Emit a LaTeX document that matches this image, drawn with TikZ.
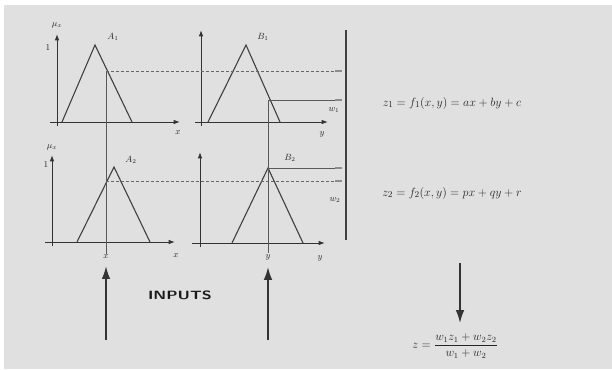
\documentclass[tikz,border=0pt]{standalone}
\usepackage{amsmath}
\usetikzlibrary{arrows.meta,positioning,calc}
\tikzset{
  tengely/.style={-{Latex[length=2.2mm,width=1.6mm]},line width=1pt,draw=black!80},
  gorbe/.style={line width=1.1pt,draw=black!75},
  szagg/.style={dashed,dash pattern=on 3pt off 2pt,draw=black!60,line width=0.7pt},
  vonal/.style={draw=black!65,line width=0.7pt},
  jel/.style={draw=black!45,line width=1.3pt},
  cimke/.style={font=\small,inner sep=1pt,text=black!85},
  egyenlet/.style={font=\fontsize{13}{15}\selectfont,text=black!85},
  vnyil/.style={-{Latex[length=4.5mm,width=3mm]},line width=1.6pt,draw=black!80},
}
\begin{document}
\begin{tikzpicture}[x=1pt,y=-1pt]
  \useasboundingbox (0,0) rectangle (612,369);
  \fill[black!12] (4,5) rectangle (612,369);
  % A_1
  \draw[tengely] (50,122) -- (180,122);
  \draw[tengely] (57,126) -- (57,34);
  \node[cimke] (mua) at (57,25) {$\mu_x$};
  \node[cimke] (egya) at (48,48) {1};
  \node[cimke] (xa) at (178,133) {$x$};
  \draw[gorbe] (62,122) -- (95,45) -- (132,122);
  \node[cimke] (a1) at (113,37) {$A_1$};
  % B_1
  \draw[tengely] (195,122) -- (328,122);
  \draw[tengely] (201,126) -- (201,30);
  \node[cimke] (yb) at (322,134) {$y$};
  \draw[gorbe] (208,122) -- (246,45) -- (280,122);
  \node[cimke] (b1) at (263,37) {$B_1$};
  % A_2
  \draw[tengely] (45,242) -- (175,242);
  \draw[tengely] (52,246) -- (52,155);
  \node[cimke] (mub) at (52,147) {$\mu_x$};
  \node[cimke] (egyb) at (46,165) {1};
  \node[cimke] (xc) at (176,256) {$x$};
  \draw[gorbe] (77,242) -- (114,167) -- (150,242);
  \node[cimke] (a2) at (131,160) {$A_2$};
  % B_2
  \draw[tengely] (192,243) -- (325,243);
  \draw[tengely] (200,247) -- (200,152);
  \node[cimke] (yd) at (320,258) {$y$};
  \draw[gorbe] (232,243) -- (268,168) -- (303,243);
  \node[cimke] (b2) at (290,158) {$B_2$};
  % bemenetek
  \node[cimke] (xval) at (106,257) {$x$};
  \node[cimke] (yval) at (268,257) {$y$};
  \draw[vonal] (106,71) -- (xval.north);
  \draw[vonal] (268,100) -- (yval.north);
  \draw[szagg] (106,71) -- (338,71);
  \draw[szagg] (106,181) -- (338,181);
  \draw[vonal] (268,100) -- (338,100);
  \draw[vonal] (268,168) -- (338,168);
  \foreach \h in {71,100,168,181} \draw[jel] (335,\h) -- (342,\h);
  \node[cimke] (w1) at (334,110) {$w_1$};
  \node[cimke] (w2) at (335,200) {$w_2$};
  \draw[line width=2pt,black!75] (346,30) -- (346,240);
  % szabalyok
  \node[egyenlet] (z1) at (452,103) {$z_1 = f_1(x,y) = ax + by + c$};
  \node[egyenlet] (z2) at (452,193) {$z_2 = f_2(x,y) = px + qy + r$};
  \node[font=\sffamily\bfseries\fontsize{12}{12}\selectfont,text=black!90] (inp) at (180,295)
    {\scalebox{1.35}[1]{INPUTS}};
  \coordinate (xbe) at (106,340);
  \coordinate (ybe) at (268,340);
  \draw[vnyil,shorten >=6pt] (xbe) -- (xval);
  \draw[vnyil,shorten >=6pt] (ybe) -- (yval);
  \node[font=\fontsize{12}{14}\selectfont,text=black!85] (zki) at (455,346)
    {$z = \dfrac{w_1 z_1 + w_2 z_2}{w_1 + w_2}$};
  \coordinate (zfent) at (460,263);
  \coordinate (zlent) at (460,323);
  \draw[vnyil] (zfent) -- (zlent);
\end{tikzpicture}
\end{document}
